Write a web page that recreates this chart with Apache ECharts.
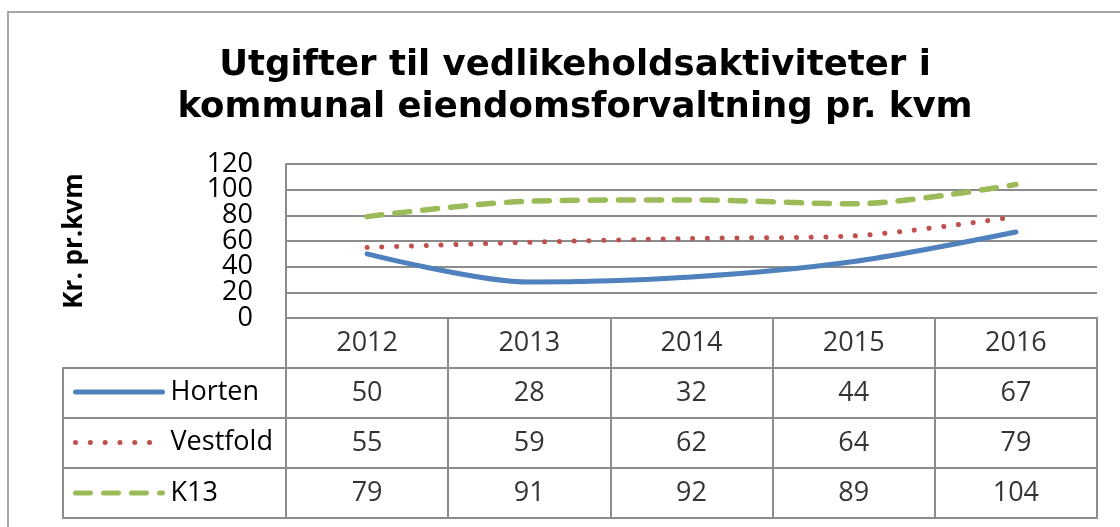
<!DOCTYPE html>
<html>
<head>
<meta charset="utf-8">
<script src="https://cdn.jsdelivr.net/npm/echarts@6/dist/echarts.min.js"></script>
<style>
  html, body { margin: 0; padding: 0; background: #fff; }
  #chart { width: 1120px; height: 527px; }
</style>
</head>
<body>
<div id="chart"></div>
<script>
// data
var years = ['2012', '2013', '2014', '2015', '2016'];
var horten = [50, 28, 32, 44, 67];
var vestfold = [55, 59, 62, 64, 79];
var k13 = [79, 91, 92, 89, 104];
var seriesNames = ['Horten', 'Vestfold', 'K13'];
var yTicks = { min: 0, max: 120, interval: 20 };

var gray = '#8c8c8c';
var numFont = '"Open Sans", "Liberation Sans", sans-serif';

// cells of the data table: header row + one row per series
var rows = ['hdr'].concat(seriesNames);
var cellData = [];
for (var i = 0; i < years.length; i++) {
    cellData.push([years[i], 'hdr', years[i]]);
    cellData.push([years[i], 'Horten', horten[i]]);
    cellData.push([years[i], 'Vestfold', vestfold[i]]);
    cellData.push([years[i], 'K13', k13[i]]);
}

var tickLabelStyle = { fontFamily: numFont, fontSize: 27, color: '#000', margin: 33 };

var chart = echarts.init(document.getElementById('chart'));

var option = {
    backgroundColor: '#fff',
    animation: false,
    title: {
        text: 'Utgifter til vedlikeholdsaktiviteter i\nkommunal eiendomsforvaltning pr. kvm',
        left: 570,
        textAlign: 'center',
        top: 40,
        textStyle: {
            fontFamily: '"DejaVu Sans", Verdana, sans-serif',
            fontWeight: 'bold',
            fontSize: 35.5,
            lineHeight: 42,
            color: '#000'
        }
    },
    graphic: [{
        type: 'rect',
        shape: { x: 8, y: 12, width: 1130, height: 540 },
        style: { fill: 'none', stroke: '#a6a6a6', lineWidth: 2 },
        silent: true
    }],
    legend: {
        orient: 'vertical',
        left: 73,
        top: 377,
        padding: 0,
        itemWidth: 87,
        itemHeight: 14,
        itemGap: 20.5,
        data: seriesNames,
        selectedMode: false,
        itemStyle: { opacity: 0 },
        lineStyle: { width: 5, cap: 'round' },
        textStyle: { fontFamily: numFont, fontSize: 27, lineHeight: 30, color: '#000', padding: [0, 0, 0, 3] }
    },
    grid: [
        { left: 286, top: 164, width: 811, height: 154 },
        { left: 286, top: 318, width: 811, height: 200, show: true, borderColor: gray, borderWidth: 2 },
        { left: 63, top: 368, width: 223, height: 150, show: true, borderColor: gray, borderWidth: 2 }
    ],
    xAxis: [
        {
            gridIndex: 0, type: 'category', data: years,
            axisLine: { show: true, lineStyle: { color: gray, width: 2 } },
            axisTick: { show: false }, axisLabel: { show: false }
        },
        {
            gridIndex: 1, type: 'category', data: years, position: 'top',
            axisLine: { show: false }, axisTick: { show: false }, axisLabel: { show: false },
            splitLine: { show: true, lineStyle: { color: gray, width: 2 } }
        },
        {
            gridIndex: 2, type: 'value', show: false, min: 0, max: 1
        }
    ],
    yAxis: [
        {
            gridIndex: 0, type: 'value', position: 'left',
            min: yTicks.min, max: yTicks.max, interval: yTicks.interval,
            name: 'Kr. pr.kvm', nameLocation: 'middle', nameGap: 198, nameRotate: 90,
            nameTextStyle: { fontFamily: numFont, fontWeight: 'bold', fontSize: 26, color: '#000' },
            axisLine: { show: true, lineStyle: { color: gray, width: 2 } },
            axisTick: { show: false },
            axisLabel: Object.assign({ showMinLabel: false, showMaxLabel: false }, tickLabelStyle),
            splitLine: { lineStyle: { color: gray, width: 2 } }
        },
        {
            gridIndex: 1, type: 'category', data: rows, inverse: true,
            axisLine: { show: false }, axisTick: { show: false }, axisLabel: { show: false },
            splitLine: { show: true, lineStyle: { color: gray, width: 2 } }
        },
        {
            gridIndex: 2, type: 'category', data: seriesNames, inverse: true,
            axisLine: { show: false }, axisTick: { show: false }, axisLabel: { show: false },
            splitLine: { show: true, lineStyle: { color: gray, width: 2 } }
        },
        {
            // min / max tick labels (0 and 120), kept on their own axis so they are not dropped
            gridIndex: 0, type: 'value', position: 'left', offset: 0,
            min: yTicks.min, max: yTicks.max, interval: yTicks.interval,
            axisLine: { show: false }, axisTick: { show: false }, splitLine: { show: false },
            axisLabel: Object.assign({ customValues: [yTicks.min, yTicks.max], showMinLabel: true, showMaxLabel: true }, tickLabelStyle)
        }
    ],
    series: [
        {
            name: 'Horten', type: 'line', data: horten, smooth: 0.3,
            symbol: 'none', color: '#4F81BD',
            lineStyle: { width: 5, color: '#4F81BD', cap: 'round' }
        },
        {
            name: 'Vestfold', type: 'line', data: vestfold, smooth: 0.3,
            symbol: 'none', color: '#C0504D',
            lineStyle: { width: 5, color: '#C0504D', type: [0.1, 14.7], cap: 'round' }
        },
        {
            name: 'K13', type: 'line', data: k13, smooth: 0.3,
            symbol: 'none', color: '#9BBB59',
            lineStyle: { width: 5.5, color: '#9BBB59', type: [15, 13], cap: 'round' }
        },
        {
            type: 'scatter', xAxisIndex: 1, yAxisIndex: 1, data: cellData,
            symbolSize: 1, itemStyle: { color: 'rgba(0,0,0,0)' }, silent: true,
            label: {
                show: true, position: 'inside',
                formatter: function (p) { return p.value[2]; },
                fontFamily: numFont, fontSize: 27, color: '#000'
            }
        }
    ]
};

chart.setOption(option);
</script>
</body>
</html>
